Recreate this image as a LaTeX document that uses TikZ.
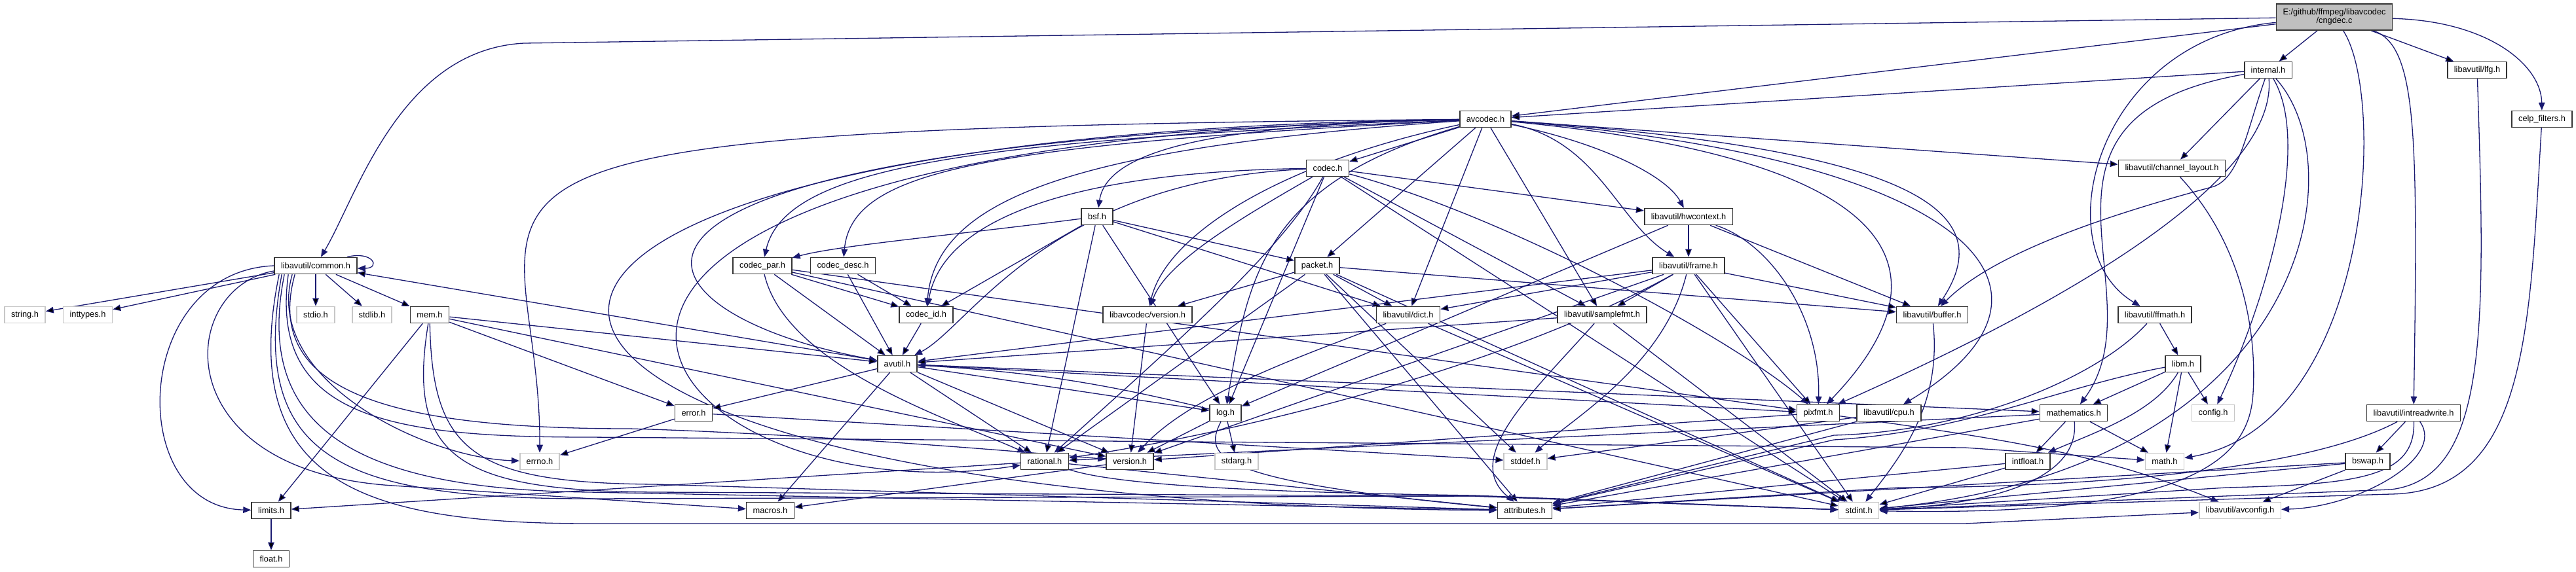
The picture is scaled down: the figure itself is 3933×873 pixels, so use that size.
\documentclass[tikz,border=0pt]{standalone}
\usepackage{fontspec}
\setmainfont{Liberation Sans}
\usepackage{tikz}
\usetikzlibrary{arrows.meta, backgrounds}
\definecolor{edgeblue}{RGB}{25,25,112}
\tikzset{
  hdr/.style={draw=black!80, line width=1.6pt, fill=white, rectangle, minimum height=25pt, inner xsep=10pt, inner ysep=1pt, font=\fontsize{12.8}{13.5}\selectfont},
  sys/.style={hdr, draw=black!22},
  dep/.style={draw=edgeblue, line width=1.3pt, -{Triangle[length=12pt,width=9.5pt]}},
}
\begin{document}
\begin{tikzpicture}[x=1pt, y=-1pt]
\useasboundingbox (0,0) rectangle (3933,873);
% Top rows
\node[hdr, fill=gray!50, align=center, minimum height=40pt, font=\fontsize{12.8}{13}\selectfont] (cngdec) at (3564,26) {E:/github/ffmpeg/libavcodec\\/cngdec.c};
\node[hdr] (internal) at (3463,107) {internal.h};
\node[hdr] (lfg) at (3782,107) {libavutil/lfg.h};
\node[hdr] (celp) at (3881,182) {celp\_filters.h};
\node[hdr] (avcodec) at (2268,182) {avcodec.h};
\node[hdr] (codec) at (2027,257) {codec.h};
\node[hdr] (chlayout) at (3316,257) {libavutil/channel\_layout.h};
\node[hdr] (bsf) at (1675,331) {bsf.h};
\node[hdr] (hwctx) at (2578,331) {libavutil/hwcontext.h};
% Middle rows
\node[hdr] (common) at (482,406) {libavutil/common.h};
\node[hdr] (cpar) at (1164,406) {codec\_par.h};
\node[hdr] (cdesc) at (1287,406) {codec\_desc.h};
\node[hdr] (packet) at (2011,406) {packet.h};
\node[hdr] (frame) at (2578,406) {libavutil/frame.h};
\node[sys] (strh) at (38,481) {string.h};
\node[sys] (inttypes) at (134,481) {inttypes.h};
\node[sys] (stdioh) at (482,481) {stdio.h};
\node[sys] (stdlibh) at (568,481) {stdlib.h};
\node[hdr] (mem) at (656,481) {mem.h};
\node[hdr] (cid) at (1414,481) {codec\_id.h};
\node[hdr] (lavcver) at (1752,481) {libavcodec/version.h};
\node[hdr] (dict) at (2150,481) {libavutil/dict.h};
\node[hdr] (sfmt) at (2446,481) {libavutil/samplefmt.h};
\node[hdr] (buffer) at (2950,481) {libavutil/buffer.h};
\node[hdr] (ffmath) at (3290,481) {libavutil/ffmath.h};
\node[hdr] (avutil) at (1370,556) {avutil.h};
\node[hdr] (libm) at (3333,556) {libm.h};
\node[hdr] (error) at (1059,631) {error.h};
\node[hdr] (log) at (1871,631) {log.h};
\node[hdr] (pixfmt) at (2776,631) {pixfmt.h};
\node[hdr] (cpu) at (2884,631) {libavutil/cpu.h};
\node[hdr] (mathem) at (3166,631) {mathematics.h};
\node[sys] (config) at (3379,631) {config.h};
\node[hdr] (intrw) at (3685,631) {libavutil/intreadwrite.h};
% Bottom rows
\node[sys] (errnoh) at (824,705) {errno.h};
\node[hdr] (rational) at (1595,705) {rational.h};
\node[hdr] (version) at (1725,705) {version.h};
\node[sys] (stdarg) at (1888,705) {stdarg.h};
\node[sys] (stddefh) at (2329,705) {stddef.h};
\node[hdr] (intfloat) at (3096,705) {intfloat.h};
\node[sys] (mathh) at (3305,705) {math.h};
\node[hdr] (bswap) at (3615,705) {bswap.h};
\node[hdr] (limits) at (414,780) {limits.h};
\node[hdr] (macros) at (1176,780) {macros.h};
\node[hdr] (attrib) at (2328,780) {attributes.h};
\node[sys] (stdint) at (2838,780) {stdint.h};
\node[sys] (avconfig) at (3420,780) {libavutil/avconfig.h};
\node[hdr] (floath) at (414,854) {float.h};
%
\begin{scope}[on background layer]
% cngdec.c
\path[dep] (cngdec) edge (internal) edge (avcodec) edge (lfg);
\draw[dep] (cngdec) -- (800,66) .. controls (610,76) and (545,300) .. (common);
\draw[dep] (cngdec) .. controls (3200,60) and (3120,380) .. (ffmath);
\draw[dep] (cngdec) .. controls (3800,32) and (3880,100) .. (celp);
\draw[dep] (cngdec) .. controls (3690,70) and (3692,200) .. (intrw);
\draw[dep] (cngdec) .. controls (3645,150) and (3620,650) .. (mathh);
% internal.h
\path[dep] (internal) edge (avcodec) edge (chlayout);
\draw[dep] (internal) .. controls (3050,180) and (3300,450) .. (mathem);
\draw[dep] (internal) .. controls (3430,200) and (3420,270) .. (3380,285) .. controls (3250,320) and (3050,380) .. (buffer);
\draw[dep] (internal) .. controls (3475,250) and (3250,420) .. (pixfmt);
\draw[dep] (internal) .. controls (3530,220) and (3460,460) .. (config);
\draw[dep] (internal) .. controls (3600,260) and (3520,715) .. (stdint);
% avcodec.h
\path[dep] (avcodec) edge (sfmt) edge (chlayout) edge (dict) edge (codec) edge (packet);
\draw[dep] (avcodec) .. controls (500,198) and (826,260) .. (errnoh);
\draw[dep] (avcodec) .. controls (420,205) and (560,770) .. (attrib);
\draw[dep] (avcodec) .. controls (520,215) and (980,800) .. (rational);
\draw[dep] (avcodec) .. controls (750,218) and (950,480) .. (avutil);
\draw[dep] (avcodec) .. controls (1500,215) and (1200,250) .. (cpar);
\draw[dep] (avcodec) .. controls (1500,222) and (1300,260) .. (cdesc);
\draw[dep] (avcodec) .. controls (1650,225) and (1430,300) .. (cid);
\draw[dep] (avcodec) .. controls (1850,190) and (1690,230) .. (bsf);
\draw[dep] (avcodec) .. controls (1950,250) and (1780,360) .. (lavcver);
\draw[dep] (avcodec) .. controls (1930,280) and (1905,420) .. (log);
\draw[dep] (avcodec) .. controls (2450,220) and (2545,270) .. (hwctx);
\draw[dep] (avcodec) .. controls (2440,215) and (2470,340) .. (frame);
\draw[dep] (avcodec) .. controls (2950,230) and (3050,330) .. (buffer);
\draw[dep] (avcodec) .. controls (3000,240) and (3200,440) .. (cpu);
\draw[dep] (avcodec) .. controls (2980,250) and (2950,450) .. (pixfmt);
% codec.h
\path[dep] (codec) edge (stdint) edge (hwctx) edge (log) edge (sfmt);
\draw[dep] (codec) .. controls (1650,262) and (1440,330) .. (cid);
\draw[dep] (codec) .. controls (1600,275) and (1480,500) .. (avutil);
\draw[dep] (codec) .. controls (1900,330) and (1780,400) .. (lavcver);
\draw[dep] (codec) .. controls (1960,380) and (1800,520) .. (rational);
\draw[dep] (codec) .. controls (2300,330) and (2650,520) .. (pixfmt);
% codec_desc.h, codec_par.h, codec_id.h
\path[dep] (cdesc) edge (avutil) edge (cid);
\path[dep] (cpar) edge (stdint) edge (avutil) edge (pixfmt) edge (cid);
\draw[dep] (cpar) .. controls (1200,560) and (1450,640) .. (rational);
\path[dep] (cid) edge (avutil);
% bsf.h, packet.h
\path[dep] (bsf) edge (dict) edge (log) edge (rational) edge (cid) edge (packet);
\draw[dep] (bsf) .. controls (1450,360) and (1280,375) .. (cpar);
\path[dep] (packet) edge (stddefh) edge (stdint) edge (attrib) edge (buffer) edge (dict) edge (rational) edge (lavcver);
% hwcontext.h, frame.h
\path[dep] (hwctx) edge (buffer) edge (frame) edge (log);
\draw[dep] (hwctx) .. controls (2700,370) and (2780,480) .. (pixfmt);
\path[dep] (frame) edge (stdint) edge (avutil) edge (buffer) edge (dict) edge (sfmt) edge (pixfmt) edge (version);
\draw[dep] (frame) .. controls (2540,560) and (2400,640) .. (stddefh);
\draw[dep] (frame) .. controls (2300,560) and (1900,660) .. (rational);
% dict.h, samplefmt.h, buffer.h, libavcodec/version.h
\path[dep] (dict) edge (stdint);
\draw[dep] (dict) .. controls (2000,540) and (1820,600) .. (version);
\path[dep] (sfmt) edge (stdint) edge (avutil);
\draw[dep] (sfmt) .. controls (2340,600) and (2230,700) .. (attrib);
\draw[dep] (buffer) .. controls (2965,620) and (2900,700) .. (stdint);
\path[dep] (lavcver) edge (version);
% avutil.h
\path[dep] (avutil) edge (common) edge (error) edge (macros) edge (mathem) edge (log) edge (pixfmt) edge (rational) edge (version);
% libavutil/common.h
\path[dep] (common) edge (strh) edge (inttypes) edge (stdioh) edge (stdlibh) edge (mem);
\draw[dep] ([xshift=-16pt]common.north east) .. controls +(40,-10) and +(36,0) .. ([yshift=-4pt]common.east);
\draw[dep] (common.west) .. controls (200,415) and (190,775) .. (limits);
\draw[dep] ([yshift=-8pt]common.west) .. controls (270,440) and (250,720) .. (600,742) -- (macros);
\draw[dep] ([xshift=28pt]common.south west) .. controls (400,580) and (650,700) .. (errnoh);
\draw[dep] ([xshift=32pt]common.south west) .. controls (400,600) and (600,655) .. (960,655) .. controls (1150,660) and (1450,680) .. (version);
\draw[dep] ([xshift=22pt]common.south west) .. controls (410,640) and (600,668) .. (900,668) -- (3000,684) -- (mathh);
\draw[dep] ([xshift=16pt]common.south west) .. controls (390,640) and (520,748) .. (900,752) -- (attrib);
\draw[dep] ([xshift=12pt]common.south west) .. controls (380,700) and (520,762) .. (900,762) -- (2250,758) -- (stdint);
\draw[dep] ([xshift=8pt]common.south west) .. controls (360,740) and (560,800) .. (900,800) -- (3000,800) -- (avconfig);
% mem.h, error.h, log.h
\path[dep] (mem) edge (limits) edge (error) edge (avutil) edge (version);
\draw[dep] (mem) .. controls (620,700) and (700,750) .. (1000,752) -- (2250,758) -- (stdint);
\draw[dep] (mem) .. controls (660,690) and (720,738) .. (1000,740) -- (attrib);
\path[dep] (error) edge (errnoh) edge (stddefh);
\path[dep] (log) edge (stdarg) edge (version);
\draw[dep] (log) to[bend right=5] (avutil);
\draw[dep] (log) .. controls (1835,700) and (1860,735) .. (attrib);
% rational.h, version.h, pixfmt.h, cpu.h
\path[dep] (rational) edge (limits) edge (attrib);
\draw[dep] (rational) .. controls (1700,740) and (1900,752) .. (2250,757) -- (stdint);
\path[dep] (version) edge (macros);
\path[dep] (pixfmt) edge (version);
\draw[dep] (pixfmt) .. controls (3050,670) and (3200,690) .. (avconfig);
\path[dep] (cpu) edge (stddefh) edge (attrib);
% mathematics.h, intfloat.h, ffmath.h, libm.h
\path[dep] (mathem) edge (mathh) edge (attrib) edge (rational) edge (intfloat);
\draw[dep] (mathem) .. controls (3175,730) and (3050,770) .. (stdint);
\path[dep] (intfloat) edge (stdint) edge (attrib);
\path[dep] (ffmath) edge (libm);
\draw[dep] (ffmath) .. controls (3200,580) and (3000,660) .. (2800,665) -- (attrib);
\path[dep] (libm) edge (mathh) edge (config) edge (mathem);
\draw[dep] (libm) .. controls (3290,630) and (3200,660) .. (intfloat);
\draw[dep] (libm) .. controls (3150,590) and (3000,660) .. (2800,672) -- (attrib);
% channel_layout.h, intreadwrite.h, bswap.h, lfg.h, celp_filters.h, limits.h
\draw[dep] (chlayout) .. controls (3430,380) and (3445,520) .. (3440,600) .. controls (3435,700) and (3350,790) .. (stdint);
\path[dep] (intrw) edge (bswap);
\draw[dep] (intrw) .. controls (3500,730) and (3100,745) .. (2900,745) -- (attrib);
\draw[dep] (intrw) .. controls (3735,700) and (3600,775) .. (avconfig);
\draw[dep] (intrw) .. controls (3688,730) and (3600,740) .. (3400,745) -- (stdint);
\path[dep] (bswap) edge (stdint) edge (avconfig) edge (attrib);
\draw[dep] (lfg) .. controls (3795,500) and (3800,730) .. (3650,748) -- (stdint);
\draw[dep] (celp) .. controls (3862,500) and (3860,752) .. (3650,755) -- (stdint);
\path[dep] (limits) edge (floath);
\end{scope}
\end{tikzpicture}
\end{document}
